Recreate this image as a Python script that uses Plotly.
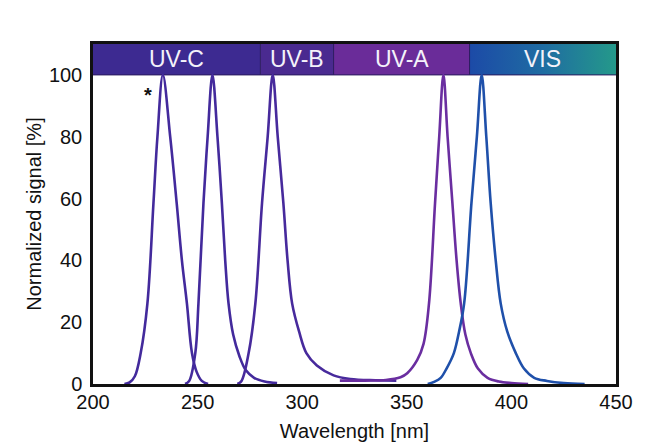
import plotly.graph_objects as go

# Spectral bands (nm)
band_names = ["UV-C", "UV-B", "UV-A", "VIS"]
band_start = [200, 280, 315, 380]
band_end = [280, 315, 380, 450]
band_colors = ["#3d2a91", "#4a2a90", "#6a2c99", None]
vis_gradient = [[0.0, "#1c4aa7"], [0.5, "#1f6ca2"], [1.0, "#24998a"]]
band_bottom = 100
band_top = 110

# Emission spectra (wavelength nm, normalized %)
led1_x = [215, 217.5, 220, 222.8, 226, 228.9, 230.8, 233.4, 236.9, 240, 242.5, 244.9, 247.3, 249.5, 252, 255]
led1_y = [0, 0.5, 2.5, 10, 26, 58.5, 80, 100, 80, 58.5, 40, 26, 10, 4, 1, 0]
led2_x = [244, 246, 248.9, 250.4, 252.8, 254.8, 257.1, 259.5, 261.6, 263.2, 264.8, 267, 270, 273, 277, 282, 288]
led2_y = [0, 1, 10, 26, 58.5, 80, 100, 80, 58.5, 40, 26, 16, 9, 4.5, 2, 0.8, 0.3]
led3_x = [269, 271, 274.4, 277.6, 280.8, 283.5, 285.9, 288.3, 291, 293, 295.2, 298.5, 302, 307, 315, 323, 335, 345]
led3_y = [0, 1, 10, 26, 58.5, 80, 100, 80, 58.5, 40, 26, 17, 10, 6, 2.8, 1.6, 1.2, 1.1]
led4_x = [318, 330, 340, 347, 350.2, 355, 358, 360.6, 363.5, 365.5, 367.5, 369.5, 371.8, 373.8, 375.8, 378, 380.6, 384, 388.6, 394, 400, 408]
led4_y = [1.1, 1.1, 1.3, 2.2, 3.5, 7.8, 13, 26, 58.5, 80, 100, 80, 58.5, 40, 26, 16, 10, 5, 2, 0.8, 0.3, 0]
led5_x = [360, 363, 366.2, 369, 372.5, 375, 377.4, 380.9, 383.5, 385.8, 388, 390.1, 392.5, 394.9, 398, 402.1, 406, 410.9, 417, 425, 435]
led5_y = [0, 0.7, 2, 5, 10, 17, 26, 58.5, 80, 100, 80, 58.5, 40, 26, 17, 10, 5, 2, 1, 0.3, 0]
curve_colors = ["#432a9c", "#432a9c", "#472a9c", "#6a2ea0", "#1f50aa"]

x_ticks = [200, 250, 300, 350, 400, 450]
y_ticks = [0, 20, 40, 60, 80, 100]
star_x, star_y = 226.3, 93.5

fig = go.Figure()

# Band rectangles
for name, s, e, c in zip(band_names, band_start, band_end, band_colors):
    xs = [s, e, e, s, s]
    ys = [band_bottom, band_bottom, band_top, band_top, band_bottom]
    if c is None:
        fig.add_trace(go.Scatter(x=xs, y=ys, mode="lines", fill="toself",
                                 line=dict(width=0), hoverinfo="skip", showlegend=False,
                                 fillgradient=dict(type="horizontal", colorscale=vis_gradient)))
    else:
        fig.add_trace(go.Scatter(x=xs, y=ys, mode="lines", fill="toself", fillcolor=c,
                                 line=dict(width=0), hoverinfo="skip", showlegend=False))
    fig.add_annotation(x=(s + e) / 2, y=(band_bottom + band_top) / 2, text=name, showarrow=False,
                       font=dict(family="Liberation Sans, Arial", size=23, color="#f4f2fa"))

# Separators between bands
for s in band_start[1:]:
    fig.add_trace(go.Scatter(x=[s, s], y=[band_bottom, band_top], mode="lines",
                             line=dict(color="#2a1a5e", width=1), hoverinfo="skip", showlegend=False))
fig.add_trace(go.Scatter(x=[band_start[0], band_end[-1]], y=[band_bottom, band_bottom], mode="lines",
                         line=dict(color="#2a1a5e", width=1), hoverinfo="skip", showlegend=False))

for xs, ys, c in zip([led1_x, led2_x, led3_x, led4_x, led5_x],
                     [led1_y, led2_y, led3_y, led4_y, led5_y], curve_colors):
    fig.add_trace(go.Scatter(x=xs, y=ys, mode="lines", line=dict(color=c, width=2.6, shape="spline", smoothing=1.0),
                             showlegend=False))

fig.add_annotation(x=star_x, y=star_y, text="<b>*</b>", showarrow=False,
                   font=dict(family="Liberation Sans, Arial", size=20, color="#111111"))

# The page body has an 8px margin, so the figure is sized to end at the window edge.
fig.update_layout(
    width=643, height=436,
    margin=dict(l=85, r=35, t=36, b=60),
    paper_bgcolor="white", plot_bgcolor="white",
    font=dict(family="Liberation Sans, Arial", size=20, color="#111111"),
    xaxis=dict(range=[200, 450], tickvals=x_ticks, showgrid=False, zeroline=False, automargin=False,
               showline=True, linecolor="#111111", linewidth=2.5, mirror=True, ticks="",
               ticklabelstandoff=-2,
               title=dict(text="Wavelength [nm]", standoff=13, font=dict(size=20))),
    yaxis=dict(range=[0, 110], tickvals=y_ticks, showgrid=False, zeroline=False, automargin=False,
               showline=True, linecolor="#111111", linewidth=2.5, mirror=True, ticks="",
               ticklabelstandoff=4,
               title=dict(text="Normalized signal [%]", standoff=2, font=dict(size=20))),
)

fig.write_html("out.html")
